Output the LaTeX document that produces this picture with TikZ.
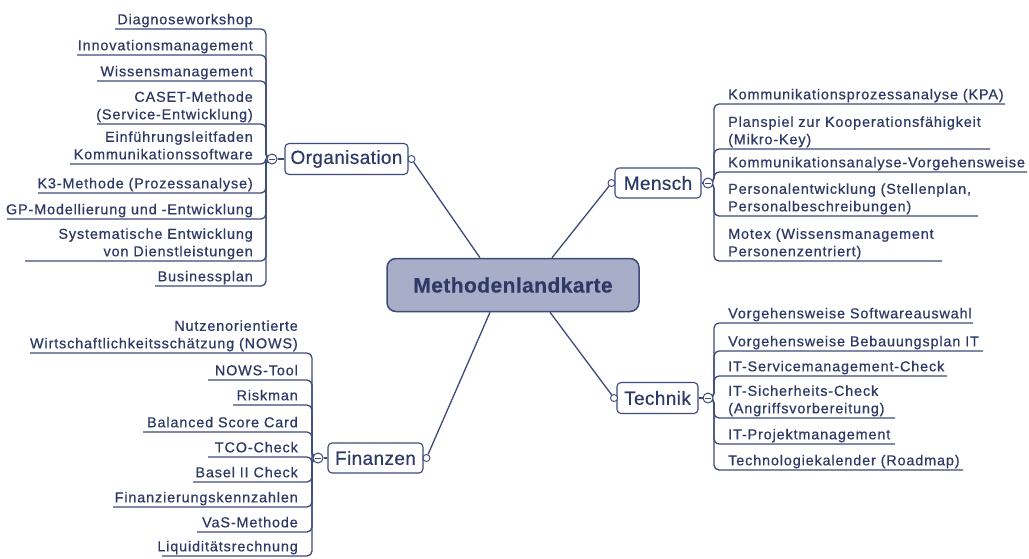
\documentclass[tikz,border=0pt]{standalone}
\usepackage{fontspec}
\setmainfont{Liberation Sans}
\newfontfamily\itemfont[LetterSpace=6,FakeBold=0.6]{Liberation Sans}
\newfontfamily\topicfont[LetterSpace=2,FakeBold=0.5]{Liberation Sans}
\usetikzlibrary{calc}
\definecolor{linec}{HTML}{3E4A7A}
\definecolor{textc}{HTML}{2E3A66}
\definecolor{cfill}{HTML}{A8ADC8}
\pgfdeclarelayer{bg}
\pgfdeclarelayer{paper}
\pgfsetlayers{paper,bg,main}
\tikzset{
  itembase/.style={font=\itemfont\fontsize{14.4}{17.5}\selectfont, text=textc, inner xsep=0pt, inner ysep=1.5pt, text depth=3pt},
  itemL/.style={itembase, align=right, anchor=south east},
  itemR/.style={itembase, align=left, anchor=south west},
  branch/.style={draw=linec, line width=1.3pt, rounded corners=5pt},
  topic/.style={draw=linec, line width=1.1pt, fill=white, rounded corners=4pt, font=\topicfont\fontsize{19}{22}\selectfont, text=textc, inner sep=0pt},
  central/.style={draw=linec, line width=1.5pt, fill=cfill, rounded corners=9pt, font=\topicfont\bfseries\fontsize{21}{24}\selectfont, text=textc, inner sep=0pt},
  knob/.style={circle, draw=linec, fill=white, line width=0.9pt, inner sep=0pt, minimum size=7pt},
  minusc/.style={circle, draw=linec, fill=white, line width=1pt, inner sep=0pt, minimum size=10pt,
    path picture={\draw[linec, line width=1pt] ([xshift=-3pt]path picture bounding box.center) -- ([xshift=3pt]path picture bounding box.center);}},
  link/.style={draw=linec, line width=1.3pt}
}
\begin{document}
\begin{tikzpicture}[x=1pt, y=-1pt]
\begin{pgfonlayer}{paper}
\fill[white] (0,0) rectangle (1029,558);
\end{pgfonlayer}
\useasboundingbox (0,0) rectangle (1029,558);

% central node
\node[central, minimum width=252pt, minimum height=53pt] (mk) at (513,285) {Methodenlandkarte};

% topic boxes
\node[topic, minimum width=123pt, minimum height=31pt] (org) at (346.5,159) {Organisation};
\node[knob] (orgk) at (411.5,159) {};
\node[minusc] (orgm) at (272,159) {};
\coordinate (orgv) at (266,159);

\node[topic, minimum width=86pt, minimum height=30pt] (men) at (658,183) {Mensch};
\node[knob] (menk) at (611.5,183) {};
\node[minusc] (menm) at (708,183) {};
\coordinate (menv) at (714,183);

\node[topic, minimum width=95pt, minimum height=30pt] (fin) at (375.5,458) {Finanzen};
\node[knob] (fink) at (426.5,458) {};
\node[minusc] (finm) at (318,458) {};
\coordinate (finv) at (312,458);

\node[topic, minimum width=81pt, minimum height=31pt] (tec) at (657.5,398) {Technik};
\node[knob] (teck) at (614,398) {};
\node[minusc] (tecm) at (708,398) {};
\coordinate (tecv) at (714,398);

\begin{pgfonlayer}{bg}
\draw[link] ($(mk.north)+(-33,0)$) -- (orgk);
\draw[link] ($(mk.north)+(39,0)$) -- (menk);
\draw[link] ($(mk.south)+(-23,0)$) -- (fink);
\draw[link] ($(mk.south)+(37,0)$) -- (teck);
\draw[link] (orgm) -- (org.west);
\draw[link] (menm) -- (men.east);
\draw[link] (finm) -- (fin.west);
\draw[link] (tecm) -- (tec.east);
\end{pgfonlayer}

% Organisation items
\foreach \n/\uy/\lx/\txt in {
  o1/29/115/{Diagnoseworkshop},
  o2/55/77/{Innovationsmanagement},
  o3/81/97/{Wissensmanagement},
  o4/124/97/{CASET-Methode\\(Service-Entwicklung)},
  o5/164/70/{Einführungsleitfaden\\Kommunikationssoftware},
  o6/193/38/{K3-Methode (Prozessanalyse)},
  o7/219/7/{GP-Modellierung und -Entwicklung},
  o8/261/25/{Systematische Entwicklung\hspace{4pt}\\von Dienstleistungen},
  o9/286/155/{Businessplan}}{
  \node[itemL] (\n) at (253,\uy) {\txt};
  \coordinate (\n-e) at (\lx,\uy);
  \begin{pgfonlayer}{bg}
  \draw[branch] (\n-e) -- (\n.south east -| orgv) -- (orgv) -- (orgm.center);
  \end{pgfonlayer}
}

% Finanzen items
\foreach \n/\uy/\lx/\txt in {
  f1/353/30/{Nutzenorientierte\hspace{4pt}\\Wirtschaftlichkeitsschätzung (NOWS)},
  f2/380/208/{NOWS-Tool},
  f3/405/233/{Riskman},
  f4/432/143/{Balanced Score Card},
  f5/457/208/{TCO-Check},
  f6/482/193/{Basel II Check},
  f7/507/113/{Finanzierungskennzahlen},
  f8/532/197/{VaS-Methode},
  f9/556/162/{Liquiditätsrechnung}}{
  \node[itemL] (\n) at (298,\uy) {\txt};
  \coordinate (\n-e) at (\lx,\uy);
  \begin{pgfonlayer}{bg}
  \draw[branch] (\n-e) -- (\n.south east -| finv) -- (finv) -- (finm.center);
  \end{pgfonlayer}
}

% Mensch items
\foreach \n/\uy/\rx/\txt in {
  m1/104/1005/{Kommunikationsprozessanalyse (KPA)},
  m2/149/990/{Planspiel zur Kooperationsfähigkeit\\(Mikro-Key)},
  m3/172/1027/{Kommunikationsanalyse-Vorgehensweise},
  m4/216/978/{Personalentwicklung (Stellenplan,\\Personalbeschreibungen)},
  m5/261/942/{Motex (Wissensmanagement\\Personenzentriert)}}{
  \node[itemR] (\n) at (728,\uy) {\txt};
  \coordinate (\n-e) at (\rx,\uy);
  \begin{pgfonlayer}{bg}
  \draw[branch] (\n-e) -- (\n.south west -| menv) -- (menv) -- (menm.center);
  \end{pgfonlayer}
}

% Technik items
\foreach \n/\uy/\rx/\txt in {
  t1/323/973/{Vorgehensweise Softwareauswahl},
  t2/351/983/{Vorgehensweise Bebauungsplan IT},
  t3/376/947/{IT-Servicemanagement-Check},
  t4/418/895/{IT-Sicherheits-Check\\(Angriffsvorbereitung)},
  t5/444/895/{IT-Projektmanagement},
  t6/470/963/{Technologiekalender (Roadmap)}}{
  \node[itemR] (\n) at (728,\uy) {\txt};
  \coordinate (\n-e) at (\rx,\uy);
  \begin{pgfonlayer}{bg}
  \draw[branch] (\n-e) -- (\n.south west -| tecv) -- (tecv) -- (tecm.center);
  \end{pgfonlayer}
}
\end{tikzpicture}
\end{document}
